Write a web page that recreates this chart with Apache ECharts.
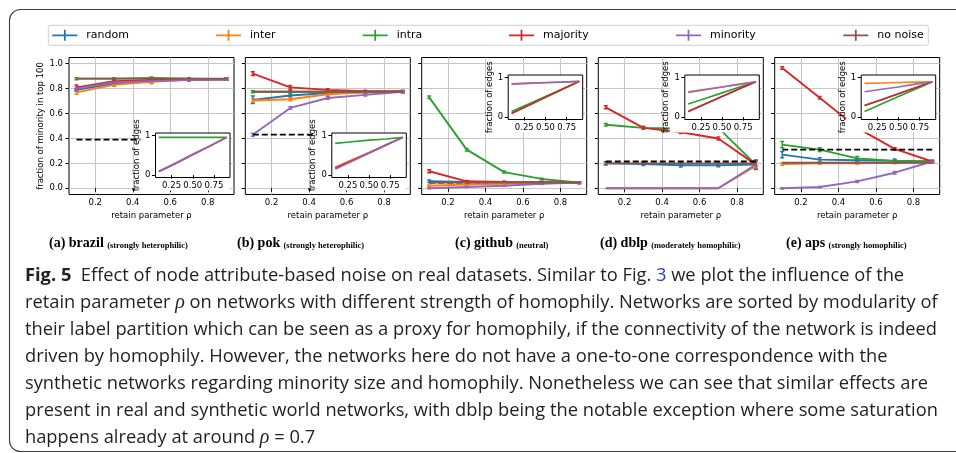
<!DOCTYPE html>
<html><head><meta charset="utf-8">
<script src="https://cdn.jsdelivr.net/npm/echarts@6/dist/echarts.min.js"></script>
<style>html,body{margin:0;padding:0;background:#fff;}#c{width:956px;height:453px;}</style>
</head><body><div id="c"></div>
<script>
// ---------- data ----------
const rho = [0.1, 0.3, 0.5, 0.7, 0.9];
const seriesNames = ['random', 'inter', 'intra', 'majority', 'minority', 'no noise'];
const edgeSeriesNames = ['random', 'inter', 'intra', 'majority', 'minority'];
const seriesColors = ['#1f77b4', '#ff7f0e', '#2ca02c', '#d62728', '#9467bd', '#8c564b'];
const datasetTags = ['(a)', '(b)', '(c)', '(d)', '(e)'];
const datasetNames = ['brazil', 'pok', 'github', 'dblp', 'aps'];
const datasetKinds = ['(strongly heterophilic)', '(strongly heterophilic)', '(neutral)', '(moderately homophilic)', '(strongly homophilic)'];
const xTicks = [0.2, 0.4, 0.6, 0.8];
const yTicks = [0, 0.2, 0.4, 0.6, 0.8, 1.0];
const insetXTicks = [0.25, 0.5, 0.75];
const insetYTicks = [0, 1];

// fraction of minority in top 100
const brazilFrac = {
  random:   [0.79, 0.84, 0.86, 0.87, 0.875],
  inter:    [0.77, 0.83, 0.855, 0.87, 0.875],
  intra:    [0.88, 0.88, 0.885, 0.88, 0.875],
  majority: [0.81, 0.86, 0.87, 0.87, 0.875],
  minority: [0.80, 0.85, 0.86, 0.87, 0.875],
  'no noise': [0.88, 0.88, 0.88, 0.88, 0.88]
};
const pokFrac = {
  random:   [0.71, 0.745, 0.765, 0.77, 0.775],
  inter:    [0.705, 0.715, 0.755, 0.77, 0.775],
  intra:    [0.775, 0.775, 0.775, 0.775, 0.775],
  majority: [0.92, 0.81, 0.79, 0.78, 0.78],
  minority: [0.43, 0.645, 0.725, 0.75, 0.775],
  'no noise': [0.775, 0.775, 0.775, 0.775, 0.775]
};
const githubFrac = {
  random:   [0.056, 0.05, 0.048, 0.046, 0.045],
  inter:    [0.02, 0.03, 0.035, 0.04, 0.045],
  intra:    [0.73, 0.31, 0.13, 0.075, 0.045],
  majority: [0.137, 0.056, 0.05, 0.048, 0.045],
  minority: [0.0, 0.01, 0.02, 0.035, 0.045],
  'no noise': [0.045, 0.045, 0.045, 0.045, 0.045]
};
const dblpFrac = {
  random:   [0.2, 0.195, 0.185, 0.185, 0.19],
  inter:    [0.0, 0.0, 0.0, 0.0, 0.18],
  intra:    [0.51, 0.485, 0.48, 0.485, 0.19],
  majority: [0.65, 0.485, 0.45, 0.40, 0.19],
  minority: [0.0, 0.0, 0.0, 0.0, 0.19],
  'no noise': [0.2, 0.2, 0.2, 0.2, 0.2]
};
const apsFrac = {
  random:   [0.27, 0.23, 0.225, 0.22, 0.215],
  inter:    [0.195, 0.2, 0.2, 0.205, 0.21],
  intra:    [0.35, 0.31, 0.24, 0.22, 0.217],
  majority: [0.965, 0.727, 0.485, 0.316, 0.215],
  minority: [0.0, 0.01, 0.055, 0.125, 0.215],
  'no noise': [0.205, 0.205, 0.205, 0.205, 0.205]
};

// error bar half-lengths
const brazilErr = {
  random: [0.01, 0.01, 0.008, 0.008, 0.008], inter: [0.015, 0.01, 0.015, 0.008, 0.008],
  intra: [0.008, 0.008, 0.008, 0.008, 0.008], majority: [0.02, 0.01, 0.01, 0.008, 0.008],
  minority: [0.015, 0.01, 0.01, 0.008, 0.008], 'no noise': [0, 0, 0, 0, 0]
};
const pokErr = {
  random: [0.03, 0.012, 0.008, 0.008, 0.008], inter: [0.015, 0.012, 0.01, 0.008, 0.008],
  intra: [0.008, 0.008, 0.008, 0.008, 0.008], majority: [0.015, 0.015, 0.01, 0.008, 0.008],
  minority: [0.012, 0.01, 0.01, 0.01, 0.008], 'no noise': [0, 0, 0, 0, 0]
};
const githubErr = {
  random: [0.01, 0.006, 0.006, 0.006, 0.006], inter: [0.006, 0.006, 0.006, 0.006, 0.006],
  intra: [0.01, 0.01, 0.008, 0.006, 0.006], majority: [0.012, 0.006, 0.006, 0.006, 0.006],
  minority: [0.004, 0.004, 0.004, 0.004, 0.006], 'no noise': [0, 0, 0, 0, 0]
};
const dblpErr = {
  random: [0.012, 0.012, 0.015, 0.012, 0.035], inter: [0, 0, 0, 0, 0.03],
  intra: [0.01, 0.01, 0.01, 0.01, 0.035], majority: [0.012, 0.01, 0.01, 0.012, 0.035],
  minority: [0, 0, 0, 0, 0.03], 'no noise': [0.012, 0.012, 0.012, 0.012, 0.02]
};
const apsErr = {
  random: [0.025, 0.015, 0.01, 0.015, 0.008], inter: [0.01, 0.008, 0.008, 0.008, 0.008],
  intra: [0.025, 0.015, 0.015, 0.01, 0.008], majority: [0.01, 0.01, 0.01, 0.01, 0.008],
  minority: [0.005, 0.005, 0.008, 0.01, 0.008], 'no noise': [0, 0, 0, 0, 0]
};

// dashed reference level
const baselines = [0.39, 0.43, 0.045, 0.215, 0.31];

// inset: fraction of edges
const brazilEdges = {
  random: [0.09, 0.3, 0.52, 0.73, 0.95], inter: [0.09, 0.3, 0.52, 0.73, 0.95],
  intra: [0.95, 0.95, 0.95, 0.95, 0.95], majority: [0.09, 0.3, 0.52, 0.73, 0.95],
  minority: [0.09, 0.3, 0.52, 0.73, 0.95]
};
const pokEdges = {
  random: [0.18, 0.37, 0.56, 0.76, 0.95], inter: [0.2, 0.39, 0.57, 0.76, 0.95],
  intra: [0.8, 0.84, 0.88, 0.91, 0.95], majority: [0.18, 0.37, 0.56, 0.76, 0.95],
  minority: [0.15, 0.35, 0.55, 0.75, 0.95]
};
const githubEdges = {
  random: [0.1, 0.3, 0.5, 0.7, 0.9], inter: [0.84, 0.855, 0.87, 0.885, 0.9],
  intra: [0.14, 0.33, 0.52, 0.71, 0.9], majority: [0.09, 0.29, 0.5, 0.7, 0.9],
  minority: [0.83, 0.85, 0.865, 0.88, 0.9]
};
const dblpEdges = {
  random: [0.14, 0.33, 0.52, 0.71, 0.89], inter: [0.64, 0.7, 0.76, 0.83, 0.89],
  intra: [0.33, 0.47, 0.61, 0.75, 0.89], majority: [0.14, 0.33, 0.52, 0.71, 0.89],
  minority: [0.62, 0.69, 0.76, 0.82, 0.89]
};
const apsEdges = {
  random: [0.29, 0.44, 0.59, 0.74, 0.89], inter: [0.85, 0.86, 0.87, 0.88, 0.89],
  intra: [0.14, 0.33, 0.52, 0.7, 0.89], majority: [0.29, 0.44, 0.59, 0.74, 0.89],
  minority: [0.64, 0.7, 0.76, 0.83, 0.89]
};

const fracSets = [brazilFrac, pokFrac, githubFrac, dblpFrac, apsFrac];
const errSets = [brazilErr, pokErr, githubErr, dblpErr, apsErr];
const edgeSets = [brazilEdges, pokEdges, githubEdges, dblpEdges, apsEdges];

const captionLines = [
  '{f|Fig. 5}{n|  Effect of node attribute-based noise on real datasets. Similar to Fig. }{l|3}{n| we plot the influence of the}',
  '{n|retain parameter }{m|ρ}{n| on networks with different strength of homophily. Networks are sorted by modularity of}',
  '{n|their label partition which can be seen as a proxy for homophily, if the connectivity of the network is indeed}',
  '{n|driven by homophily. However, the networks here do not have a one-to-one correspondence with the}',
  '{n|synthetic networks regarding minority size and homophily. Nonetheless we can see that similar effects are}',
  '{n|present in real and synthetic world networks, with dblp being the notable exception where some saturation}',
  '{n|happens already at around }{m|ρ}{n| = 0.7}'
];

// ---------- layout ----------
const FONT = 'DejaVu Sans';
const mainLefts = [69, 245.3, 421.7, 598.3, 774.7];
const mainTop = 57.5, mainW = 165, mainH = 137;
const insetW = 74.5, insetH = 44.5;
const insetLeft = i => mainLefts[i] + 86.5;
const insetTop = i => (i < 2 ? 133 : 75);

const grids = [], xAxes = [], yAxes = [], series = [], graphics = [];
const txt = { fontFamily: FONT, fontSize: 8.5, color: '#000' };

for (let i = 0; i < 5; i++) {
  grids.push({ left: mainLefts[i], top: mainTop, width: mainW, height: mainH, show: true,
    borderColor: '#000', borderWidth: 1, backgroundColor: 'transparent', containLabel: false });
}
for (let i = 0; i < 5; i++) {
  grids.push({ left: insetLeft(i), top: insetTop(i), width: insetW, height: insetH, show: true,
    borderColor: '#000', borderWidth: 1, backgroundColor: '#fff', z: 6 });
}
for (let i = 0; i < 5; i++) {
  xAxes.push({ gridIndex: i, type: 'value', min: 0.06, max: 0.94,
    axisLine: { show: false },
    axisTick: { show: true, length: 3.5, lineStyle: { color: '#000', width: 1 }, customValues: xTicks },
    axisLabel: { ...txt, margin: 4, customValues: xTicks, formatter: v => v.toFixed(1) },
    splitLine: { show: true, lineStyle: { color: '#c6c6c6', width: 1.1 } },
    name: 'retain parameter ρ', nameLocation: 'middle', nameGap: 16.5, nameTextStyle: txt });
  yAxes.push({ gridIndex: i, type: 'value', min: -0.05, max: 1.05,
    axisLine: { show: false },
    axisTick: { show: true, length: 3.5, lineStyle: { color: '#000', width: 1 }, customValues: yTicks },
    axisLabel: { ...txt, show: i === 0, margin: 6, customValues: yTicks, formatter: v => v.toFixed(1) },
    splitLine: { show: true, lineStyle: { color: '#c6c6c6', width: 1.1 } },
    name: i === 0 ? 'fraction of minority in top 100' : '', nameLocation: 'middle', nameRotate: 90,
    nameGap: 21, nameTextStyle: txt });
}
for (let i = 0; i < 5; i++) {
  xAxes.push({ gridIndex: 5 + i, type: 'value', min: 0.06, max: 0.94, z: 7,
    axisLine: { show: false },
    axisTick: { show: true, length: 3.5, lineStyle: { color: '#000', width: 1 }, customValues: insetXTicks },
    axisLabel: { ...txt, margin: 4, customValues: insetXTicks, formatter: v => v.toFixed(2) },
    splitLine: { show: false } });
  yAxes.push({ gridIndex: 5 + i, type: 'value', min: -0.06, max: 1.06, z: 7,
    axisLine: { show: false },
    axisTick: { show: true, length: 3.5, lineStyle: { color: '#000', width: 1 }, customValues: insetYTicks },
    axisLabel: { ...txt, margin: 5, customValues: insetYTicks, formatter: v => String(Math.round(v)) },
    splitLine: { show: false },
    name: 'fraction of edges', nameLocation: 'middle', nameRotate: 90, nameGap: 13, nameTextStyle: txt });
}

function errRender(params, api) {
  const x = api.value(0), y = api.value(1), e = api.value(2);
  if (!e) return null;
  const lo = api.coord([x, y - e]), hi = api.coord([x, y + e]);
  const c = api.visual('color'), cw = 2;
  const st = { stroke: c, lineWidth: 1.5 };
  return { type: 'group', children: [
    { type: 'line', shape: { x1: lo[0], y1: lo[1], x2: hi[0], y2: hi[1] }, style: st },
    { type: 'line', shape: { x1: lo[0] - cw, y1: lo[1], x2: lo[0] + cw, y2: lo[1] }, style: st },
    { type: 'line', shape: { x1: hi[0] - cw, y1: hi[1], x2: hi[0] + cw, y2: hi[1] }, style: st }
  ] };
}

for (let i = 0; i < 5; i++) {
  // dashed reference line drawn first, so coloured lines sit on top of it
  series.push({ type: 'line', xAxisIndex: i, yAxisIndex: i, symbol: 'none', silent: true,
    data: [[rho[0], baselines[i]], [rho[rho.length - 1], baselines[i]]],
    lineStyle: { color: '#000', width: 1.8, type: [6, 3] }, z: i === 2 ? 3 : 4 });
  seriesNames.forEach((nm, s) => {
    const vals = fracSets[i][nm], errs = errSets[i][nm], col = seriesColors[s];
    series.push({ type: 'line', name: nm, xAxisIndex: i, yAxisIndex: i,
      data: rho.map((x, k) => [x, vals[k]]), symbol: 'none', silent: true,
      lineStyle: { color: col, width: 1.9 }, itemStyle: { color: col }, z: 3 });
    series.push({ type: 'custom', xAxisIndex: i, yAxisIndex: i, renderItem: errRender, silent: true,
      data: rho.map((x, k) => [x, vals[k], errs[k]]), itemStyle: { color: col }, z: 3, clip: true });
  });
  edgeSeriesNames.forEach((nm, s) => {
    const vals = edgeSets[i][nm], col = seriesColors[s];
    series.push({ type: 'line', xAxisIndex: 5 + i, yAxisIndex: 5 + i, symbol: 'none', silent: true,
      data: rho.map((x, k) => [x, vals[k]]), lineStyle: { color: col, width: 1.6 }, itemStyle: { color: col }, z: 8 });
  });
  // white box behind inset + tick labels
  graphics.push({ type: 'rect', silent: true, z: 5,
    shape: { x: insetLeft(i) - 15, y: insetTop(i), width: insetW + 15, height: insetH + 13 },
    style: { fill: '#fff' } });
}

// legend
const legendLefts = [52.3, 216, 362.7, 509, 676, 843.3];
const legends = seriesNames.map((nm, s) => ({
  left: legendLefts[s], top: 29.8, padding: 0, itemWidth: 25, itemHeight: 11, selectedMode: false,
  symbolKeepAspect: false,
  data: [{ name: nm, icon: 'path://M0,4.6h25v1.8h-25z M11.6,0h1.8v11h-1.8z' }],
  itemStyle: { borderWidth: 0 },
  textStyle: { fontFamily: FONT, fontSize: 11, color: '#000', padding: [0, 0, 0, 4] }
}));

graphics.push({ type: 'rect', silent: true, z: 1, shape: { x: 48.3, y: 25.3, width: 880, height: 20, r: 2 },
  style: { fill: 'none', stroke: '#d0d0d0', lineWidth: 1 } });
graphics.push({ type: 'rect', silent: true, z: 1, shape: { x: 9.5, y: 9.5, width: 1000, height: 442, r: 11 },
  style: { fill: 'none', stroke: '#3c3c3c', lineWidth: 1.1 } });

// sub-captions
const capLefts = [49, 237, 455, 600, 786];
datasetNames.forEach((nm, i) => {
  graphics.push({ type: 'text', silent: true, x: capLefts[i], y: 250, z: 2,
    style: { text: '{b|' + datasetTags[i] + ' ' + nm + '} {s|' + datasetKinds[i] + '}', verticalAlign: 'bottom',
      rich: { b: { fontFamily: 'Liberation Serif', fontWeight: 'bold', fontSize: 14, verticalAlign: 'bottom', fill: '#000' },
              s: { fontFamily: 'Liberation Serif', fontWeight: 'bold', fontSize: 8.5, verticalAlign: 'bottom', fill: '#000' } } } });
});

// figure caption
captionLines.forEach((ln, k) => {
  graphics.push({ type: 'text', silent: true, x: 25, y: 276 + 27 * k, z: 2,
    style: { text: ln, verticalAlign: 'middle',
      rich: {
        f: { fontFamily: 'Open Sans', fontWeight: 'bold', fontSize: 18.3, fill: '#231f20' },
        n: { fontFamily: 'Open Sans', fontSize: 18.3, fill: '#231f20' },
        l: { fontFamily: 'Open Sans', fontSize: 18.3, fill: '#2a3bd6' },
        m: { fontFamily: 'Liberation Serif', fontStyle: 'italic', fontSize: 20, fill: '#231f20' }
      } } });
});

const chart = echarts.init(document.getElementById('c'), null, { renderer: 'canvas' });
chart.setOption({
  animation: false,
  backgroundColor: '#fff',
  grid: grids, xAxis: xAxes, yAxis: yAxes, series: series,
  legend: legends,
  graphic: { elements: graphics }
});
</script>
</body></html>
